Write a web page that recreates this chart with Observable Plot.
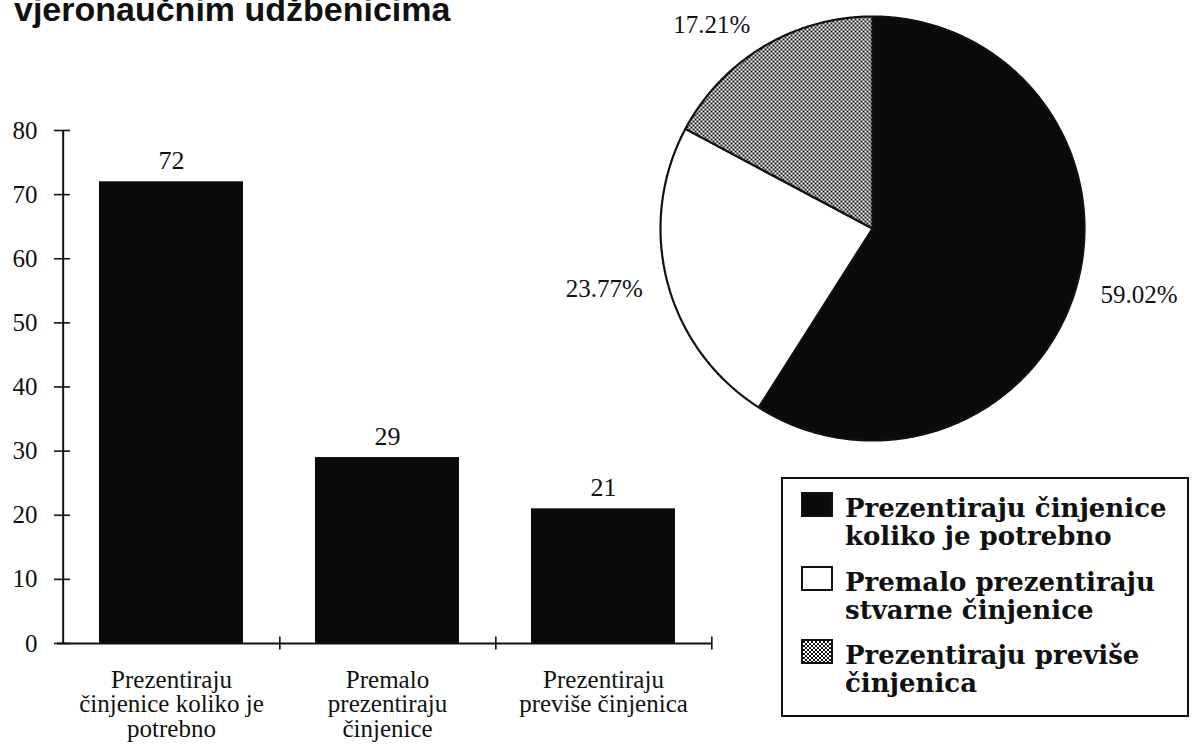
<!DOCTYPE html>
<html>
<head>
<meta charset="utf-8">
<script src="https://cdn.jsdelivr.net/npm/d3@7"></script>
<script src="https://cdn.jsdelivr.net/npm/@observablehq/plot@0.6"></script>
<style>
  html, body { margin: 0; padding: 0; background: white; }
  #chart { position: relative; width: 1192px; height: 745px; overflow: hidden; background: white; }
  #chart > svg.plotsvg { position: absolute; left: 0; top: 0; margin: 0; }
  #title { position: absolute; left: 14px; top: -8px; font-family: "Liberation Sans", Arial, sans-serif; font-weight: bold; font-size: 34px; line-height: 34px; color: #111; white-space: nowrap; }
  #legend { position: absolute; left: 781px; top: 477px; width: 404px; height: 236px; border: 2px solid #111; font-family: "DejaVu Serif", "Liberation Serif", serif; font-weight: bold; font-size: 26px; line-height: 28px; color: #111; }
  .item { position: absolute; left: 62px; white-space: pre; }
  .sw { position: absolute; left: 18px; }
</style>
</head>
<body>
<svg width="0" height="0" style="position:absolute">
  <defs>
    <pattern id="dots" patternUnits="userSpaceOnUse" width="4" height="4">
      <rect width="4" height="4" fill="white"></rect>
      <rect x="0" y="0" width="2" height="2" fill="#111"></rect>
      <rect x="2" y="2" width="2" height="2" fill="#111"></rect>
      <rect x="1" y="0" width="1" height="1" fill="#333"></rect>
    </pattern>
  </defs>
</svg>
<div id="chart">
  <div id="title">vjeronaučnim udžbenicima</div>
</div>
<script>
// ---- data ----
const titleText = "vjeronaučnim udžbenicima";
const categories = [
  "Prezentiraju činjenice koliko je potrebno",
  "Premalo prezentiraju činjenice",
  "Prezentiraju previše činjenica"
];
const counts = [72, 29, 21];
const tickLabels = [
  "Prezentiraju\nčinjenice koliko je\npotrebno",
  "Premalo\nprezentiraju\nčinjenice",
  "Prezentiraju\npreviše činjenica"
];
const yTicks = [0, 10, 20, 30, 40, 50, 60, 70, 80];
const legendLabels = [
  "Prezentiraju činjenice\nkoliko je potrebno",
  "Premalo prezentiraju\nstvarne činjenice",
  "Prezentiraju previše\nčinjenica"
];

// ---- styles ----
const sliceFills = ["#0a0a0a", "white", "url(#dots)"];
const serif = "'Liberation Serif', 'Times New Roman', serif";

const chart = document.getElementById("chart");
document.getElementById("title").textContent = titleText;

// ---- bar chart ----
const W = 740, H = 745, ML = 62, MR = 28, MT = 130, MB = 102;
const step = (W - ML - MR) / categories.length;
const barData = categories.map((c, i) => ({cat: c, value: counts[i], label: tickLabels[i]}));

const bar = Plot.plot({
  width: W, height: H,
  marginLeft: ML, marginRight: MR, marginTop: MT, marginBottom: MB,
  style: {background: "transparent", fontFamily: serif, color: "#111", overflow: "visible"},
  x: {domain: categories, paddingInner: 1/3, paddingOuter: 1/6, axis: null},
  y: {domain: [0, 80], axis: null},
  marks: [
    Plot.barY(barData, {x: "cat", y: "value", fill: "#0a0a0a"}),
    Plot.text(barData, {x: "cat", y: "value", text: d => String(d.value), dy: -21, fontSize: 26, fontFamily: serif}),
    Plot.ruleY([0], {strokeWidth: 2, insetLeft: -5}),
    Plot.ruleX([categories[0]], {dx: -step / 2, y1: 0, y2: 80, strokeWidth: 2}),
    Plot.ruleX(categories, {dx: step / 2, y1: -1, y2: 1, strokeWidth: 1.6}),
    Plot.axisY({ticks: yTicks, tickSize: 16, dx: 8, tickPadding: 17, fontSize: 25, fontFamily: serif, strokeWidth: 1.6, label: null, tickFormat: d => String(d)}),
    Plot.text(barData, {x: "cat", text: "label", frameAnchor: "bottom", lineAnchor: "top", dy: 27, fontSize: 25, lineHeight: 0.98, fontFamily: serif})
  ]
});
bar.classList.add("plotsvg");
chart.appendChild(bar);

// ---- pie chart ----
const total = d3.sum(counts);
const arcs = d3.pie().sort(null).value(d => d)(counts);
const piePoints = arcs.flatMap((a, i) => {
  const n = Math.max(2, Math.ceil((a.endAngle - a.startAngle) / (Math.PI / 360)));
  const pts = [{slice: i, x: 0, y: 0}];
  for (let k = 0; k <= n; k++) {
    const t = a.startAngle + (a.endAngle - a.startAngle) * k / n;
    pts.push({slice: i, x: Math.sin(t), y: Math.cos(t)});
  }
  pts.push({slice: i, x: 0, y: 0});
  return pts;
});
const pieLabels = arcs.map((a, i) => {
  const m = (a.startAngle + a.endAngle) / 2;
  return {x: 1.12 * Math.sin(m), y: 1.12 * Math.cos(m), text: d3.format(".2%")(counts[i] / total)};
});

const pie = Plot.plot({
  width: 1192, height: 745,
  marginLeft: 660, marginRight: 108, marginTop: 16, marginBottom: 305,
  style: {background: "transparent", fontFamily: serif, color: "#111", overflow: "visible"},
  x: {domain: [-1, 1], axis: null},
  y: {domain: [-1, 1], axis: null},
  marks: [
    ...arcs.map((a, i) => Plot.line(piePoints.filter(p => p.slice === i), {
      x: "x", y: "y", fill: sliceFills[i], stroke: "#111", strokeWidth: 2.2, strokeLinejoin: "miter"
    })),
    Plot.text(pieLabels.filter(d => d.x > 0), {x: "x", y: "y", text: "text", textAnchor: "start", fontSize: 25, fontFamily: serif}),
    Plot.text(pieLabels.filter(d => d.x <= 0), {x: "x", y: "y", text: "text", textAnchor: "end", fontSize: 25, fontFamily: serif})
  ]
});
pie.classList.add("plotsvg");
chart.appendChild(pie);

// ---- legend ----
const legend = document.createElement("div");
legend.id = "legend";
const rowTops = [15, 89, 162];
legendLabels.forEach((lab, i) => {
  const item = document.createElement("div");
  item.className = "item";
  item.style.top = rowTops[i] + "px";
  item.textContent = lab;
  legend.appendChild(item);
  const sw = document.createElementNS("http://www.w3.org/2000/svg", "svg");
  sw.setAttribute("class", "sw");
  sw.setAttribute("width", 32);
  sw.setAttribute("height", 25);
  sw.style.top = (rowTops[i] - 2) + "px";
  const r = document.createElementNS("http://www.w3.org/2000/svg", "rect");
  r.setAttribute("x", 1); r.setAttribute("y", 1);
  r.setAttribute("width", 30); r.setAttribute("height", 23);
  r.setAttribute("fill", sliceFills[i]);
  r.setAttribute("stroke", "#111");
  r.setAttribute("stroke-width", 2);
  sw.appendChild(r);
  legend.appendChild(sw);
});
chart.appendChild(legend);
</script>
</body>
</html>
